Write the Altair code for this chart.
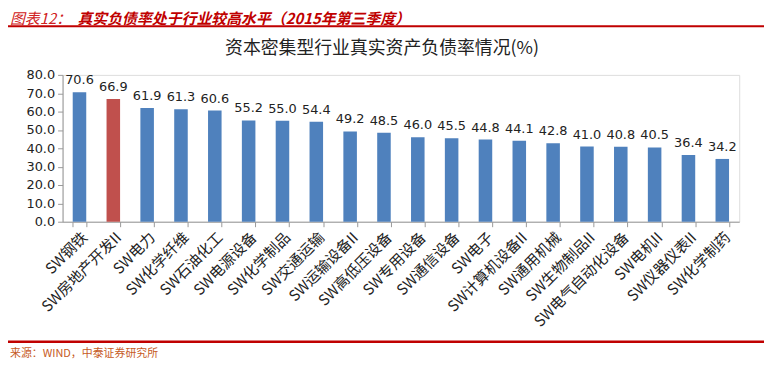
import altair as alt
import pandas as pd

categories = ["SW钢铁", "SW房地产开发II", "SW电力", "SW化学纤维", "SW石油化工", "SW电源设备",
              "SW化学制品", "SW交通运输", "SW运输设备II", "SW高低压设备", "SW专用设备", "SW通信设备",
              "SW电子", "SW计算机设备II", "SW通用机械", "SW生物制品II", "SW电气自动化设备",
              "SW电机II", "SW仪器仪表II", "SW化学制药"]
values = [70.6, 66.9, 61.9, 61.3, 60.6, 55.2, 55.0, 54.4, 49.2, 48.5, 46.0, 45.5,
          44.8, 44.1, 42.8, 41.0, 40.8, 40.5, 36.4, 34.2]
highlight = ["SW房地产开发II"]
y_ticks = [0, 10, 20, 30, 40, 50, 60, 70, 80]

df = pd.DataFrame({"cat": categories, "val": values})
df["hl"] = df["cat"].isin(highlight)
df["label"] = df["val"].map(lambda v: f"{v:.1f}")

W, H = 682, 148
font = "Noto Sans CJK SC"

x = alt.X("cat:N", sort=categories, title=None,
          scale=alt.Scale(paddingInner=0.6, paddingOuter=0.3),
          axis=alt.Axis(labelAngle=-45, labelAlign="right", labelBaseline="top",
                        labelFont=font, labelFontSize=15, labelColor="#222",
                        tickBand="extent", tickColor="#999", domainColor="#999",
                        tickSize=5, labelPadding=3, labelOverlap=False, labelLimit=300))
y = alt.Y("val:Q", title=None,
          scale=alt.Scale(domain=[0, 80], nice=False),
          axis=alt.Axis(values=y_ticks, format=".1f", grid=False, labelOverlap=False,
                        labelFont="DejaVu Sans", labelFontSize=13, labelColor="#222",
                        tickColor="#999", domainColor="#999", tickSize=5, labelPadding=3))

base = alt.Chart(df)
bars = base.mark_bar().encode(
    x=x, y=y,
    color=alt.condition(alt.datum.hl, alt.value("#c0504d"), alt.value("#4f81bd")),
)
labels = base.mark_text(dy=-12, font="DejaVu Sans", fontSize=13, color="#222").encode(
    x=x, y=y, text="label:N")

deco = pd.DataFrame({"k": [0]})
d = alt.Chart(deco)
header1 = d.mark_text(align="left", baseline="middle", font=font, fontSize=15,
                      fontStyle="italic", color="#d02020").encode(
    x=alt.value(-53), y=alt.value(-56), text=alt.value("图表12："))
header2 = d.mark_text(align="left", baseline="middle", font=font, fontSize=15,
                      fontWeight="bold", fontStyle="italic", color="#c00000").encode(
    x=alt.value(15), y=alt.value(-56),
    text=alt.value("真实负债率处于行业较高水平（2015年第三季度）"))
hline = d.mark_rule(color="#c00000", strokeWidth=2).encode(
    x=alt.value(-60), x2=alt.value(707), y=alt.value(-49))
title = d.mark_text(align="center", baseline="middle", font=font, fontSize=18,
                    color="#222").encode(
    x=alt.value(322), y=alt.value(-26), text=alt.value("资本密集型行业真实资产负债率情况(%)"))
bline = d.mark_rule(color="#c00000", strokeWidth=2.5).encode(
    x=alt.value(-60), x2=alt.value(707), y=alt.value(269))
footer = d.mark_text(align="left", baseline="middle", font=font, fontSize=11,
                     color="#c65a1e").encode(
    x=alt.value(-53), y=alt.value(281), text=alt.value("来源：WIND，中泰证券研究所"))

chart = alt.layer(bars, labels, header1, header2, hline, title, bline, footer).properties(
    width=W, height=H,
    autosize=alt.AutoSizeParams(type="none"),
    padding={"left": 55, "top": 66, "right": 25, "bottom": 142},
).configure_view(stroke=None).configure(background="white")

chart.save("out.html", embed_options={"renderer": "svg", "actions": False})
